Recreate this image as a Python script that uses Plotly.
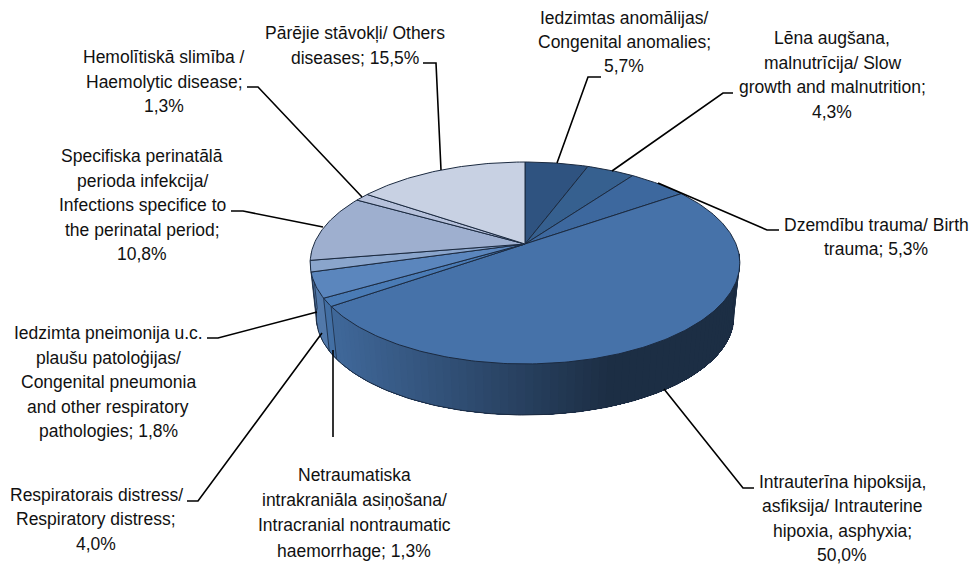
import math
import plotly.graph_objects as go

# ---- data ----
values = [5.7, 4.3, 5.3, 50.0, 1.3, 4.0, 1.8, 10.8, 1.3, 15.5]
colors = ["#2f5380", "#36608f", "#3d689e", "#4672a9", "#4a7bb5",
          "#5b86bd", "#8aa5cc", "#9eafcf", "#b6c1db", "#c8d1e3"]
label_lines = [
    ["Iedzimtas anomālijas/", "Congenital anomalies;", "5,7%"],
    ["Lēna augšana,", "malnutrīcija/ Slow", "growth and malnutrition;", "4,3%"],
    ["Dzemdību trauma/ Birth", "trauma; 5,3%"],
    ["Intrauterīna hipoksija,", "asfiksija/ Intrauterine", "hipoxia, asphyxia;", "50,0%"],
    ["Netraumatiska", "intrakraniāla asiņošana/", "Intracranial nontraumatic", "haemorrhage; 1,3%"],
    ["Respiratorais distress/", "Respiratory distress;", "4,0%"],
    ["Iedzimta pneimonija u.c.", "plaušu patoloģijas/", "Congenital pneumonia", "and other respiratory", "pathologies; 1,8%"],
    ["Specifiska perinatālā", "perioda infekcija/", "Infections specifice to", "the perinatal period;", "10,8%"],
    ["Hemolītiskā slimība /", "Haemolytic disease;", "1,3%"],
    ["Pārējie stāvokļi/ Others", "diseases; 15,5%"],
]
label_center_x = [624, 832, 876, 842, 354, 96, 108, 142, 164, 355]
label_first_y = [18, 38, 225, 482, 475, 495, 333, 156, 57, 33]
label_step = [24, 24.6, 24, 24.4, 25.2, 24.3, 24.5, 24.6, 24.5, 25]
leaders = [
    [(557, 163), (588, 77), (601, 77)],
    [(612, 171), (723, 93), (733, 93)],
    [(658, 183), (767, 230), (779, 230)],
    [(664, 389), (743, 488), (754, 488)],
    [(333, 350), (333, 437)],
    [(322, 333), (198, 501), (187, 501)],
    [(317, 312), (218, 338), (207, 338)],
    [(323, 227), (243, 211), (231, 211)],
    [(362, 197), (258, 87), (247, 87)],
    [(441, 170), (436, 63), (423, 63)],
]

# ---- pie geometry (perspective view of a disc) ----
CX, CY, A, B, K = 525.0, 244.0, 211.0, 97.4, 0.188
DEPTH_SCALE, DEPTH_DY = 0.972, 54.4
EDGE = "#1b2a40"


def top(frac):
    t = 2 * math.pi * frac
    u, v = math.sin(t), math.cos(t)
    d = 1 + K * v
    return CX + A * u / d, CY - B * v / d


def bottom(frac):
    x, y = top(frac)
    return CX + (x - CX) * DEPTH_SCALE, CY + (y - CY) * DEPTH_SCALE + DEPTH_DY


def shade(hex_color, x):
    f = 0.9 - 0.5 * (x - 340) / 270
    f = max(0.4, min(0.9, f))
    r, g, b = (int(hex_color[i:i + 2], 16) for i in (1, 3, 5))
    return f"rgb({r * f:.0f},{g * f:.0f},{b * f:.0f})"


fig = go.Figure()
total = sum(values)
edges = [0.0]
for val in values:
    edges.append(edges[-1] + val / total)

# wall: painted from the right end leftward, every strip overlapping the previous one,
# so no seams appear between neighbouring strips
WALL_START, WALL_END = 0.265, 0.735
n_strips = 90


def wall_poly(f0, f1, n=60):
    fs = [f0 + (f1 - f0) * k / n for k in range(n + 1)]
    pts = [top(f) for f in fs] + [bottom(f) for f in reversed(fs)]
    return [p[0] for p in pts] + [pts[0][0]], [p[1] for p in pts] + [pts[0][1]]


for i in range(n_strips):
    f_right = WALL_END - (WALL_END - WALL_START) * i / n_strips
    f_mid = f_right - (WALL_END - WALL_START) / n_strips / 2
    idx = max(j for j in range(len(values)) if edges[j] <= f_mid)
    px = (top(f_mid)[0] + bottom(f_mid)[0]) / 2
    xs, ys = wall_poly(f_right, WALL_START)
    c = shade(colors[idx], px)
    fig.add_trace(go.Scatter(x=xs, y=ys, mode="lines", fill="toself", fillcolor=c,
                             line=dict(width=0), hoverinfo="skip", showlegend=False))

# wall outline
fr = [WALL_START + (WALL_END - WALL_START) * i / 200 for i in range(201)]
bot = [bottom(f) for f in fr]
fig.add_trace(go.Scatter(x=[p[0] for p in bot], y=[p[1] for p in bot], mode="lines",
                         line=dict(color=EDGE, width=1), hoverinfo="skip", showlegend=False))
for f in [WALL_START, WALL_END] + [e for e in edges if WALL_START < e < WALL_END]:
    a, b = top(f), bottom(f)
    fig.add_trace(go.Scatter(x=[a[0], b[0]], y=[a[1], b[1]], mode="lines",
                             line=dict(color=EDGE, width=0.8), hoverinfo="skip", showlegend=False))

# top slices
for i, c in enumerate(colors):
    n = max(6, int(values[i] * 4))
    arc = [top(edges[i] + (edges[i + 1] - edges[i]) * k / n) for k in range(n + 1)]
    xs = [CX] + [p[0] for p in arc] + [CX]
    ys = [CY] + [p[1] for p in arc] + [CY]
    fig.add_trace(go.Scatter(x=xs, y=ys, mode="lines", fill="toself", fillcolor=c,
                             line=dict(color=EDGE, width=1), hoverinfo="skip", showlegend=False))

# leaders
for pts in leaders:
    fig.add_trace(go.Scatter(x=[p[0] for p in pts], y=[p[1] for p in pts], mode="lines",
                             line=dict(color="#000000", width=1.6), hoverinfo="skip", showlegend=False))

# labels
annotations = []
for lines, cx, y0, step in zip(label_lines, label_center_x, label_first_y, label_step):
    for j, line in enumerate(lines):
        annotations.append(dict(x=cx, y=y0 + j * step, text=line, showarrow=False,
                                xanchor="center", yanchor="middle",
                                font=dict(family="Liberation Sans", size=17.5, color="#111111")))

fig.update_layout(
    width=970, height=568, margin=dict(l=0, r=0, t=0, b=0),
    paper_bgcolor="white", plot_bgcolor="white", annotations=annotations,
    xaxis=dict(range=[0, 970], visible=False, fixedrange=True),
    yaxis=dict(range=[568, 0], visible=False, fixedrange=True),
)
fig.write_html("out.html", config={"displayModeBar": False},
               post_script="document.body.style.margin='0';document.body.style.overflow='hidden';")
